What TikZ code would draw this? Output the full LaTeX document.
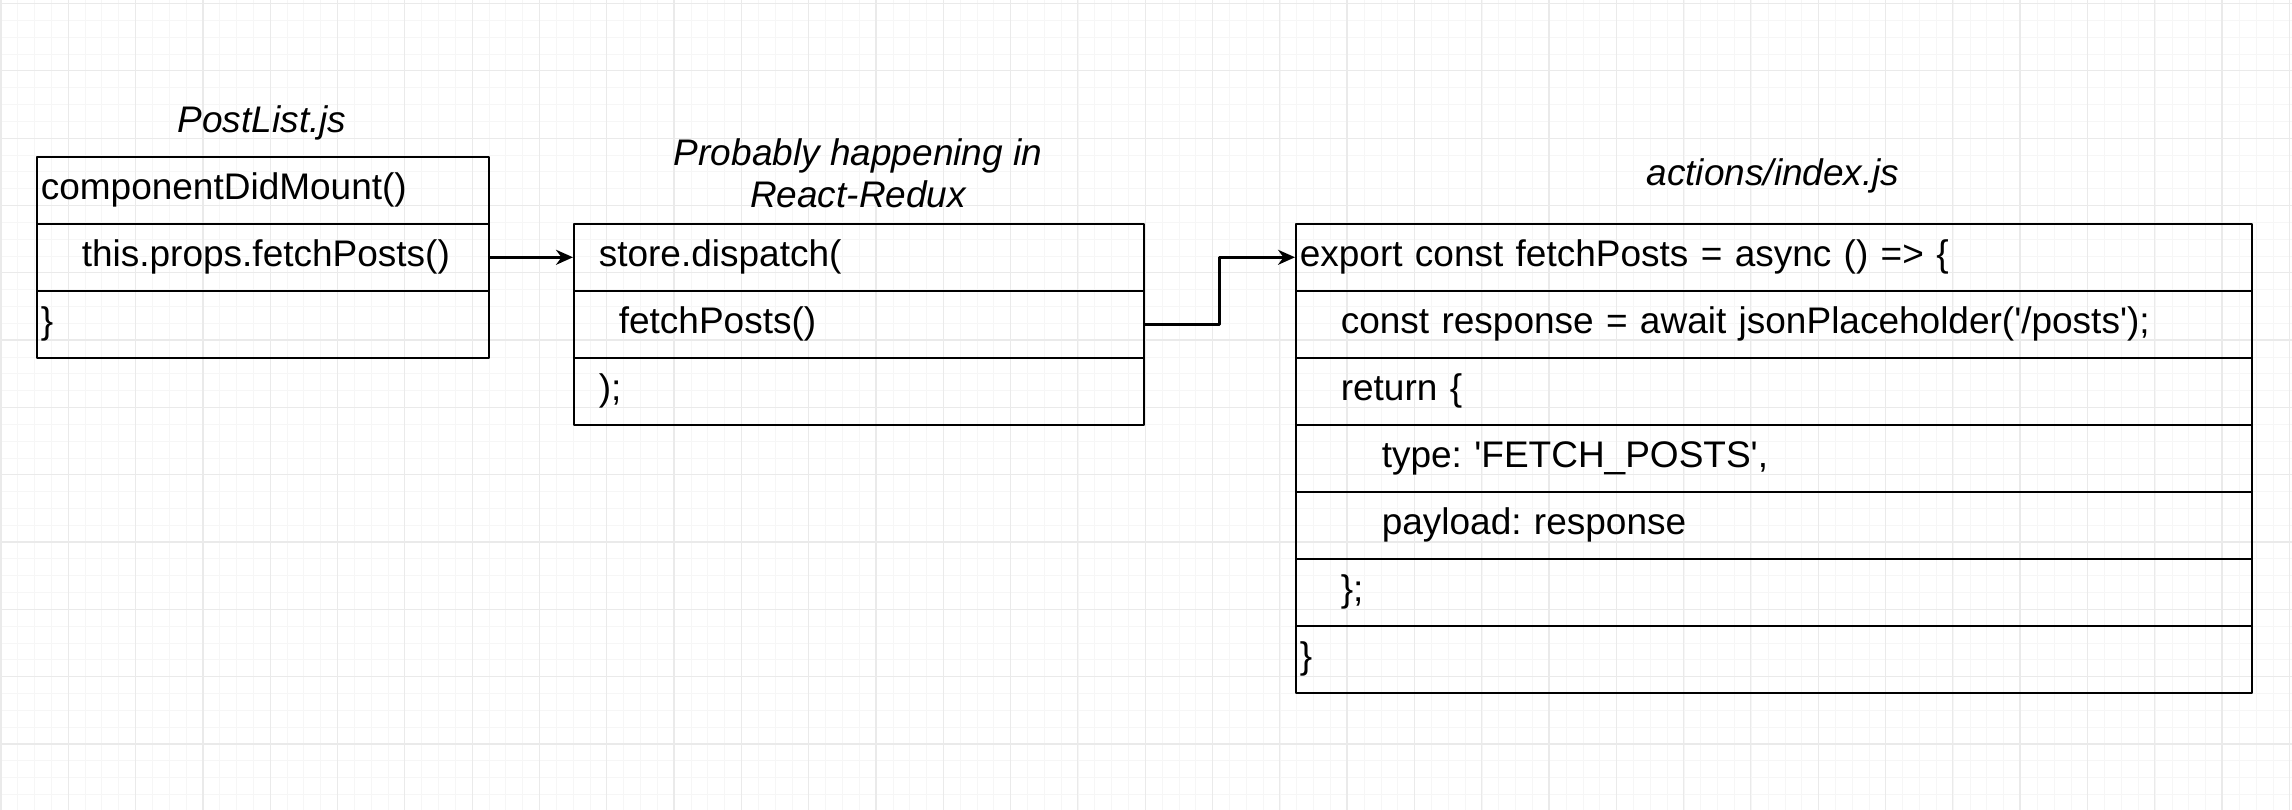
\documentclass[tikz,border=0pt]{standalone}
\usepackage{fontspec}
\setmainfont{Liberation Sans}
\usetikzlibrary{arrows.meta}
\frenchspacing
\definecolor{gridminor}{HTML}{F6F6F6}
\definecolor{gridmajor}{HTML}{EAEAEA}
\tikzset{
  row/.style={draw, line width=1.6pt, anchor=north west, minimum height=67pt,
    inner xsep=4pt, inner ysep=0pt, align=left, text width=#1,
    text height=27pt, text depth=8pt},
  heading/.style={font=\fontsize{37}{42}\selectfont\itshape, align=center},
  link/.style={->, line width=2.6pt}
}
\begin{document}
\begin{tikzpicture}
	[x=1pt, y=-1pt, line join=round, >={Stealth[length=17pt, width=15pt]}, font=\fontsize{37}{42}\selectfont]
	\useasboundingbox (0,0) rectangle (2292,810);
	% background grid
	\foreach \i in {0,...,136} \draw[gridminor, line width=1pt] ({1+16.83*\i},0) -- ({1+16.83*\i},810);
	\foreach \i in {0,...,48} \draw[gridminor, line width=1pt] (0,{3.6+16.83*\i}) -- (2292,{3.6+16.83*\i});
	\foreach \i in {0,...,34} \draw[gridmajor, line width=1.2pt] ({1+67.3*\i},0) -- ({1+67.3*\i},810);
	\foreach \i in {0,...,12} \draw[gridmajor, line width=1.2pt] (0,{3.6+67.3*\i}) -- (2292,{3.6+67.3*\i});
	% PostList.js
	\node[heading] (plt) at (262,123) {PostList.js};
	\node[row=444pt] (pl1) at (36,156) {componentDidMount()};
	\node[row=444pt] (pl2) at (36,223) {\hspace*{41pt}this.props.fetchPosts()};
	\node[row=444pt] (pl3) at (36,290) {\}};
	% React-Redux
	\node[heading] (rdt) at (858,173) {Probably happening in\\React-Redux};
	\node[row=562pt] (rd1) at (573,223) {\hspace*{21pt}store.dispatch(};
	\node[row=562pt] (rd2) at (573,290) {\hspace*{41pt}fetchPosts()};
	\node[row=562pt] (rd3) at (573,357) {\hspace*{21pt});};
	% actions/index.js
	\node[heading] (act) at (1773,176) {actions/index.js};
	\node[row=948pt] (ac1) at (1295,223) {export const fetchPosts = async () => \{};
	\node[row=948pt] (ac2) at (1295,290) {\hspace*{41pt}const response = await jsonPlaceholder(\textquotesingle/posts\textquotesingle);};
	\node[row=948pt] (ac3) at (1295,357) {\hspace*{41pt}return \{};
	\node[row=948pt] (ac4) at (1295,424) {\hspace*{82pt}type: \textquotesingle FETCH\_POSTS\textquotesingle,};
	\node[row=948pt] (ac5) at (1295,491) {\hspace*{82pt}payload: response};
	\node[row=948pt] (ac6) at (1295,558) {\hspace*{41pt}\};};
	\node[row=948pt] (ac7) at (1295,625) {\}};
	% connectors
	\draw[link] (pl2.east) -- (rd1.west);
	\draw[link] (rd2.east) -- ++(75,0) |- (ac1.west);
\end{tikzpicture}
\end{document}
